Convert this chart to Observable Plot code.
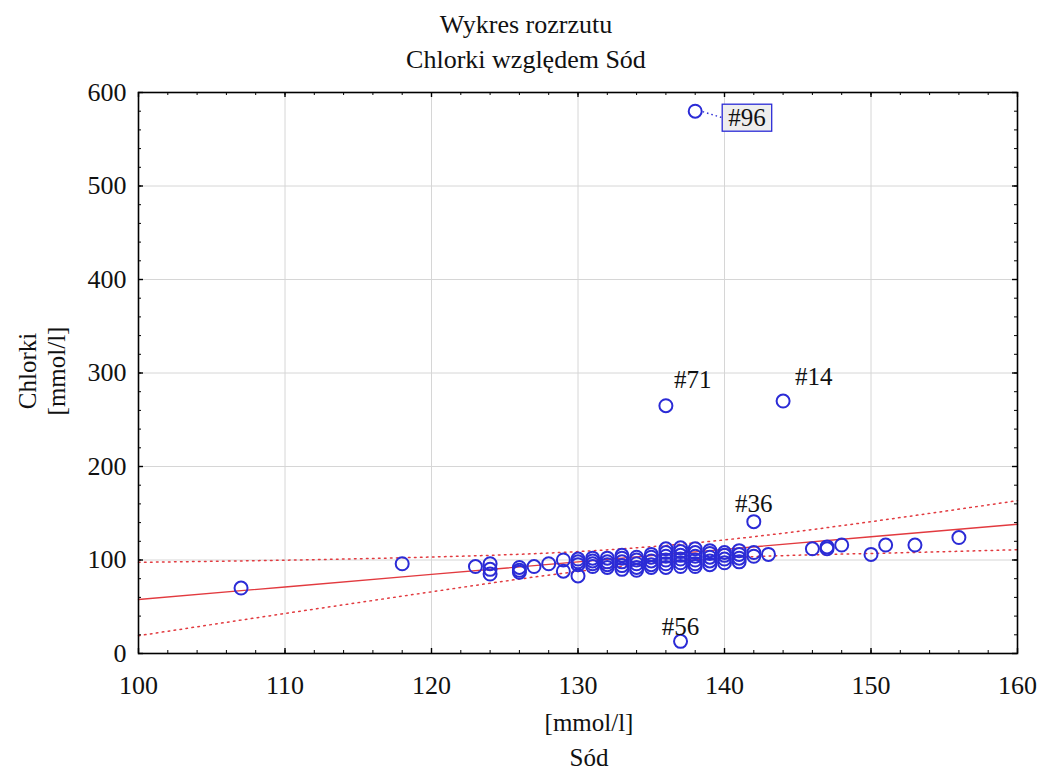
<!DOCTYPE html>
<html><head><meta charset="utf-8">
<script src="https://cdn.jsdelivr.net/npm/d3@7"></script>
<script src="https://cdn.jsdelivr.net/npm/@observablehq/plot@0.6"></script>
<style>
body{margin:0;background:#fff;font-family:"Liberation Serif","Times New Roman",serif;color:#111;}
#wrap{position:relative;width:1038px;height:769px;overflow:hidden;background:#fff;}
#wrap svg{position:absolute;left:0;top:0;z-index:1;}
.t{position:absolute;z-index:2;font-size:26px;white-space:nowrap;transform:translate(-50%,-50%);line-height:1;}
.yl{position:absolute;z-index:2;font-size:25px;white-space:nowrap;transform:translate(-50%,-50%) rotate(-90deg);line-height:1;}
</style></head><body>
<div id="wrap">
  <div class="t" style="left:526px;top:25px">Wykres rozrzutu</div>
  <div class="t" style="left:526px;top:60px">Chlorki względem Sód</div>
  <div class="yl" style="left:27px;top:371px">Chlorki</div>
  <div class="yl" style="left:56px;top:371px">[mmol/l]</div>
  <div class="t" style="left:589px;top:722px;font-size:25px">[mmol/l]</div>
  <div class="t" style="left:589px;top:757px;font-size:25px">Sód</div>
</div>
<script>
// ---- data (Sód vs Chlorki, mmol/l) ----
const sod = [107,118,123,124,124,124,126,126,126,127,128,129,129,
  130,130,130,130,131,131,131,131,132,132,132,132,
  133,133,133,133,133,134,134,134,134,134,135,135,135,135,135,
  136,136,136,136,136,136,137,137,137,137,137,137,
  138,138,138,138,138,138,139,139,139,139,139,
  140,140,140,140,141,141,141,141,142,142,143,
  146,147,147,148,150,151,153,156];
const chlorki = [70,96,93,96,90,85,92,89,87,93,96,100,88,
  83,95,98,101,93,96,99,102,92,95,98,102,
  90,94,98,102,105,89,92,96,100,103,92,95,99,103,106,
  92,96,100,104,108,112,93,97,101,105,109,113,
  93,96,100,104,108,112,95,99,103,107,110,
  97,101,105,108,98,102,106,110,104,108,106,
  112,112,114,116,106,116,116,124];
// labelled cases
const caseLabel = ["#96","#71","#14","#36","#56"];
const caseSod = [138,136,144,142,137];
const caseChlorki = [580,265,270,141,13];
// fitted line and 95% confidence band
const fitSod = [100,110,120,130,140,150,160];
const fitChlorki = [57.8,71.2,84.6,98.0,111.4,124.8,138.2];
const bandUpper = [97.5,99.8,103.2,109.0,121.5,141.0,163.5];
const bandLower = [19.0,42.8,66.0,87.8,102.0,107.0,111.0];
// axis ticks
const xMajor = [100,110,120,130,140,150,160];
const xMinor = d3.range(100,161,2);
const yMajor = [0,100,200,300,400,500,600];
const yMinor = d3.range(0,601,20);

const points = sod.map((s,i)=>({s, c:chlorki[i]}))
  .concat(caseSod.map((s,i)=>({s, c:caseChlorki[i]})));
const cases = caseLabel.map((l,i)=>({l, s:caseSod[i], c:caseChlorki[i]}));
const fit = fitSod.map((s,i)=>({s, f:fitChlorki[i], u:bandUpper[i], lo:bandLower[i]}));

const W = 1038, H = 769, mL = 138, mR = 21, mT = 92, mB = 116;
const fw = W - mL - mR, fh = H - mT - mB;
const blue = "#2b2bd6", red = "#e23a3f";
const font = "Liberation Serif, Times New Roman, serif";

const lab = (l, opts) => Plot.text(cases.filter(d=>d.l===l), {x:"s", y:"c", text:"l", fontSize:25, fill:"#111", ...opts});

const chart = Plot.plot({
  width: W, height: H,
  marginLeft: mL, marginRight: mR, marginTop: mT, marginBottom: mB,
  style: {fontFamily: font, background: "transparent", overflow: "visible"},
  x: {domain: [100,160]},
  y: {domain: [0,600]},
  marks: [
    Plot.ruleX(xMajor.slice(1,-1), {stroke:"#d6d6d6", strokeWidth:1}),
    Plot.ruleY(yMajor.slice(1,-1), {stroke:"#d6d6d6", strokeWidth:1}),
    Plot.line(fit, {x:"s", y:"u", stroke:red, strokeWidth:1.5, strokeDasharray:"1.6,4.4", curve:"natural"}),
    Plot.line(fit, {x:"s", y:"lo", stroke:red, strokeWidth:1.5, strokeDasharray:"1.6,4.4", curve:"natural"}),
    Plot.line(fit, {x:"s", y:"f", stroke:red, strokeWidth:1.4}),
    Plot.dot(points, {x:"s", y:"c", r:6.5, stroke:blue, strokeWidth:2, fill:"none"}),
    // inward ticks on all sides
    Plot.tickX(xMajor, {x:d=>d, insetTop: fh-5, stroke:"black", strokeWidth:1.4}),
    Plot.tickX(xMinor, {x:d=>d, insetTop: fh-3, stroke:"black", strokeWidth:1}),
    Plot.tickX(xMajor, {x:d=>d, insetBottom: fh-5, stroke:"black", strokeWidth:1.4}),
    Plot.tickX(xMinor, {x:d=>d, insetBottom: fh-3, stroke:"black", strokeWidth:1}),
    Plot.tickY(yMajor, {y:d=>d, insetRight: fw-5, stroke:"black", strokeWidth:1.4}),
    Plot.tickY(yMinor, {y:d=>d, insetRight: fw-3, stroke:"black", strokeWidth:1}),
    Plot.tickY(yMajor, {y:d=>d, insetLeft: fw-5, stroke:"black", strokeWidth:1.4}),
    Plot.tickY(yMinor, {y:d=>d, insetLeft: fw-3, stroke:"black", strokeWidth:1}),
    Plot.frame({stroke:"black", strokeWidth:1.6}),
    Plot.axisX(xMajor, {tickSize:0, tickPadding:22, fontSize:26, label:null, fill:"#111"}),
    Plot.axisY(yMajor, {tickSize:0, tickPadding:12, fontSize:26, label:null, fill:"#111"}),
    lab("#71", {dx:8, dy:-26, textAnchor:"start"}),
    lab("#14", {dx:12, dy:-24, textAnchor:"start"}),
    lab("#36", {dx:0, dy:-18, textAnchor:"middle"}),
    lab("#56", {dx:0, dy:-14, textAnchor:"middle"}),
    lab("#96", {dx:33, dy:7, textAnchor:"start"})
  ]
});
document.getElementById("wrap").appendChild(chart);

// box around the #96 label and dotted leader from its point
const svg = d3.select(chart);
const xs = d3.scaleLinear([100,160],[mL, W-mR]);
const ys = d3.scaleLinear([0,600],[H-mB, mT]);
svg.selectAll("text").filter(function(){ return this.textContent === "#96"; }).each(function(){
  const bb = this.getBBox();
  const tr = this.getAttribute("transform");
  const rx = bb.x - 6, ry = bb.y, rw = bb.width + 12, rh = bb.height;
  const r = d3.select(this.parentNode).insert("rect", () => this)
    .attr("x", rx).attr("y", ry).attr("width", rw).attr("height", rh)
    .attr("fill", "#eeeeee").attr("stroke", blue).attr("stroke-width", 1.3);
  if (tr) r.attr("transform", tr);
  const pt = chart.createSVGPoint();
  pt.x = rx; pt.y = ry + rh/2;
  const q = pt.matrixTransform(this.getScreenCTM()).matrixTransform(chart.getScreenCTM().inverse());
  const i = caseLabel.indexOf("#96");
  const cx = xs(caseSod[i]), cy = ys(caseChlorki[i]);
  svg.append("line").attr("x1", cx + 8).attr("y1", cy + 1).attr("x2", q.x).attr("y2", q.y)
    .attr("stroke", blue).attr("stroke-width", 1.4).attr("stroke-dasharray", "1.5,3");
});
</script>
</body></html>
